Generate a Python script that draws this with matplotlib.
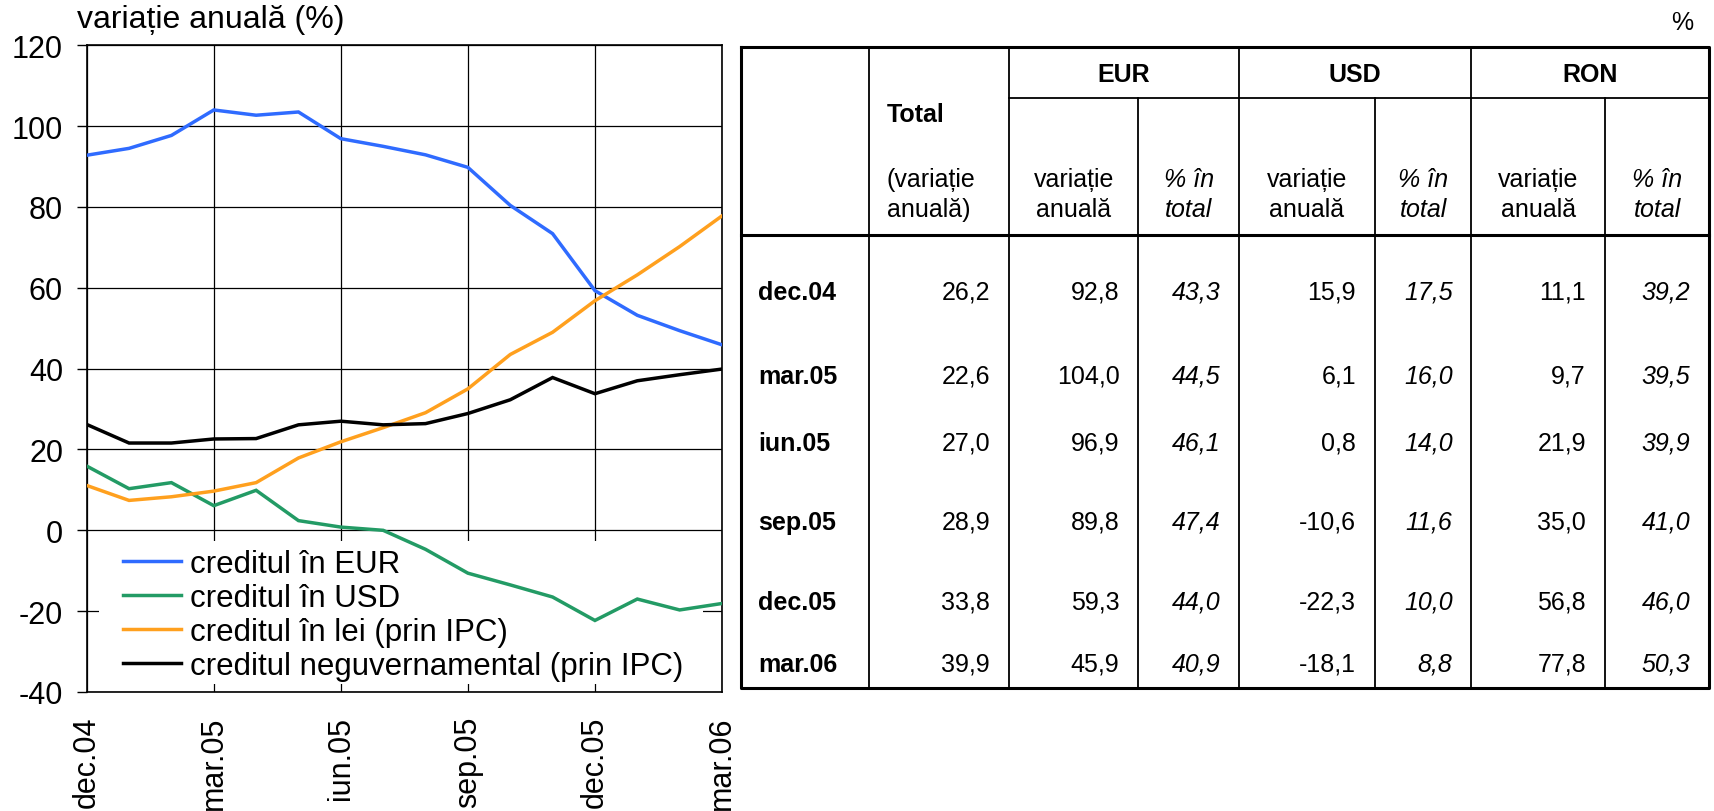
import numpy as np
import matplotlib
matplotlib.use("Agg")
import matplotlib.pyplot as plt
from matplotlib.patches import Rectangle

plt.rcParams['font.family'] = ['Liberation Sans', 'DejaVu Sans']
plt.rcParams['axes.unicode_minus'] = False

# ==============================================================================
# DATE
# ==============================================================================

# luni dec.04 ... mar.06 (16 puncte), etichete la fiecare trimestru
etichete_trim = ['dec.04', 'mar.05', 'iun.05', 'sep.05', 'dec.05', 'mar.06']

credit_eur = [92.8, 94.5, 97.7, 104.0, 102.7, 103.5, 96.9, 95.0,
              92.9, 89.8, 80.4, 73.4, 59.3, 53.2, 49.4, 45.9]
credit_usd = [15.9, 10.3, 11.8, 6.1, 9.9, 2.4, 0.8, 0.0,
              -4.7, -10.6, -13.5, -16.5, -22.3, -17.0, -19.7, -18.1]
credit_lei = [11.1, 7.4, 8.3, 9.7, 11.8, 17.9, 21.9, 25.4,
              29.1, 35.0, 43.5, 49.0, 56.8, 63.2, 70.2, 77.8]
credit_neguv = [26.2, 21.6, 21.6, 22.6, 22.7, 26.1, 27.0, 26.1,
                26.4, 28.9, 32.3, 37.8, 33.8, 37.0, 38.5, 39.9]

nume_serii = ['creditul în EUR', 'creditul în USD',
              'creditul în lei (prin IPC)', 'creditul neguvernamental (prin IPC)']
culori = ['#2F6BFF', '#239B65', '#FFA01E', '#000000']

# tabel
randuri = ['dec.04', 'mar.05', 'iun.05', 'sep.05', 'dec.05', 'mar.06']
total = [26.2, 22.6, 27.0, 28.9, 33.8, 39.9]
eur_var = [92.8, 104.0, 96.9, 89.8, 59.3, 45.9]
eur_pct = [43.3, 44.5, 46.1, 47.4, 44.0, 40.9]
usd_var = [15.9, 6.1, 0.8, -10.6, -22.3, -18.1]
usd_pct = [17.5, 16.0, 14.0, 11.6, 10.0, 8.8]
ron_var = [11.1, 9.7, 21.9, 35.0, 56.8, 77.8]
ron_pct = [39.2, 39.5, 39.9, 41.0, 46.0, 50.3]
valute = ['EUR', 'USD', 'RON']

# ==============================================================================
# LAYOUT (pixeli)
# ==============================================================================
W, H = 1715, 812
col_x = [741, 869, 1009, 1138.5, 1239, 1375, 1471.5, 1605, 1709]
lin_y = [47.5, 99, 235.5, 689]
rand_y = [293, 377, 444, 523, 603, 665]


def fmt(v):
    return f"{v:.1f}".replace('.', ',')


def grafic(fig):
    ax = fig.add_axes([86.7 / W, 1 - 693 / H, 635.3 / W, 646.7 / H])
    x = np.arange(len(credit_eur))
    serii = [credit_eur, credit_usd, credit_lei, credit_neguv]
    for y, c, n in zip(serii, culori, nume_serii):
        ax.plot(x, y, color=c, lw=2.5, label=n, zorder=3, solid_joinstyle='miter')

    ax.set_xlim(0, 15)
    ax.set_ylim(-40, 120)
    ax.set_yticks(np.arange(-40, 121, 20))
    ax.set_xticks(np.arange(0, 16, 3))
    ax.set_xticklabels(etichete_trim, rotation=90, fontsize=22)
    ax.tick_params(axis='y', labelsize=22, length=7, width=1, direction='out', pad=10)
    ax.tick_params(axis='x', length=0, pad=17)
    ax.grid(True, color='black', lw=0.9, zorder=1)
    for s in ax.spines.values():
        s.set_linewidth(1.2)

    # fundal alb al legendei (acopera grila, nu si liniile)
    ax.add_patch(Rectangle(((99 - 86.7) / 635.3, (693 - 685) / 646.7),
                           604 / 635.3, 143.3 / 646.7, transform=ax.transAxes,
                           facecolor='white', edgecolor='none', zorder=2))
    ax.legend(loc='upper left', bbox_to_anchor=((123 - 86.7) / 635.3, (693 - 550) / 646.7),
              frameon=False, borderpad=0, borderaxespad=0, fontsize=22.5,
              handlelength=1.85, handletextpad=0.28, labelspacing=0.13)
    fig.text(77 / W, 1 - 20 / H, 'variație anuală (%)', fontsize=23, ha='left', va='center')


def tabel(fig):
    t = fig.add_axes([0, 0, 1, 1])
    t.set_xlim(0, W)
    t.set_ylim(H, 0)
    t.axis('off')
    gros, subtire = 2.2, 1.3

    # chenar exterior si separator cap de tabel
    t.plot([col_x[0], col_x[-1], col_x[-1], col_x[0], col_x[0]],
           [lin_y[0], lin_y[0], lin_y[-1], lin_y[-1], lin_y[0]], color='black', lw=gros)
    t.plot([col_x[0], col_x[-1]], [lin_y[2], lin_y[2]], color='black', lw=gros)
    t.plot([col_x[2], col_x[-1]], [lin_y[1], lin_y[1]], color='black', lw=subtire)
    for i in range(1, len(col_x) - 1):
        y0 = lin_y[0] if i in (1, 2, 4, 6) else lin_y[1]
        t.plot([col_x[i], col_x[i]], [y0, lin_y[-1]], color='black', lw=subtire)

    fs = 18
    t.text(1682, 23, '%', fontsize=fs, ha='center', va='center')
    # cap de tabel
    t.text(887, 115, 'Total', fontsize=fs, weight='bold', ha='left', va='center')
    t.text(887, 180, '(variație', fontsize=fs, ha='left', va='center')
    t.text(887, 210, 'anuală)', fontsize=fs, ha='left', va='center')
    for k, v in enumerate(valute):
        xa, xb = col_x[2 + 2 * k], col_x[4 + 2 * k]
        t.text((xa + xb) / 2, 75, v, fontsize=fs, weight='bold', ha='center', va='center')
        cv = (col_x[2 + 2 * k] + col_x[3 + 2 * k]) / 2
        cp = (col_x[3 + 2 * k] + col_x[4 + 2 * k]) / 2
        t.text(cv, 180, 'variație', fontsize=fs, ha='center', va='center')
        t.text(cv, 210, 'anuală', fontsize=fs, ha='center', va='center')
        t.text(cp, 180, '% în', fontsize=fs, style='italic', ha='center', va='center')
        t.text(cp, 210, 'total', fontsize=fs, style='italic', ha='center', va='center')

    # corp tabel
    coloane = [total, eur_var, eur_pct, usd_var, usd_pct, ron_var, ron_pct]
    italic = [False, False, True, False, True, False, True]
    for r, (eticheta, y) in enumerate(zip(randuri, rand_y)):
        t.text(758, y, eticheta, fontsize=fs, weight='bold', ha='left', va='center')
        for j, col in enumerate(coloane):
            t.text(col_x[j + 2] - 19, y, fmt(col[r]), fontsize=fs,
                   style='italic' if italic[j] else 'normal', ha='right', va='center')


def main():
    fig = plt.figure(figsize=(W / 100, H / 100), dpi=100)
    grafic(fig)
    tabel(fig)
    fig.savefig('out.png', dpi=100)


if __name__ == "__main__":
    main()
